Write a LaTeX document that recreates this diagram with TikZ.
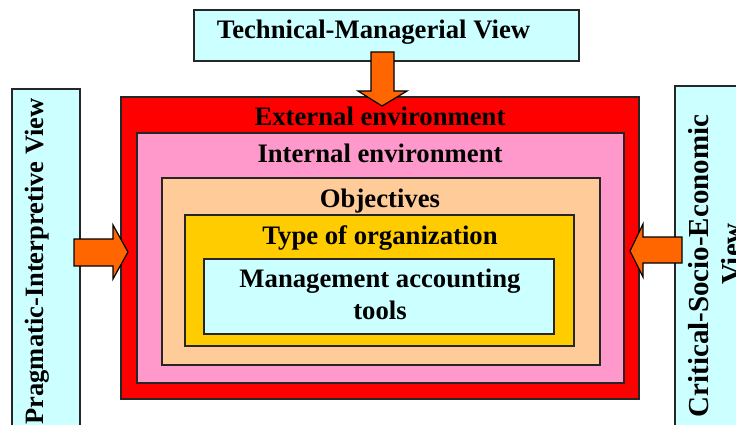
\documentclass[tikz,border=0pt]{standalone}
\usepackage{fontspec}
\setmainfont{Liberation Serif}
\definecolor{cyanbox}{HTML}{CCFFFF}
\definecolor{pinkbox}{HTML}{FF99CC}
\definecolor{peachbox}{HTML}{FFCC99}
\definecolor{goldbox}{HTML}{FFCC00}
\definecolor{redbox}{HTML}{FF0000}
\definecolor{arroworange}{HTML}{FF6600}
\tikzset{
  layer/.style={draw=black!85, line width=1.6pt, inner sep=0pt, rectangle},
  lbl/.style={font=\fontsize{26.7}{32}\selectfont\bfseries, inner sep=0pt, anchor=base},
  blockarrow/.style={fill=arroworange, draw=black, line width=1.2pt, line join=miter}
}
\begin{document}
\begin{tikzpicture}[x=1pt, y=-1pt]
\useasboundingbox (0,0) rectangle (736,425);
\clip (0,0) rectangle (736,425);
% view boxes
\node[layer, fill=cyanbox, minimum width=385pt, minimum height=51pt] (tech) at (386.5,35.5) {};
\node[layer, fill=cyanbox, minimum width=68pt, minimum height=351pt] (prag) at (46,264.5) {};
\node[layer, fill=cyanbox, minimum width=85pt, minimum height=354pt] (crit) at (717.5,263) {};
% nested boxes
\node[layer, fill=redbox, minimum width=518pt, minimum height=302pt] (ext) at (380,248) {};
\node[layer, fill=pinkbox, minimum width=487pt, minimum height=250pt] (int) at (380.5,258) {};
\node[layer, fill=peachbox, minimum width=438pt, minimum height=187pt] (obj) at (381,271.5) {};
\node[layer, fill=goldbox, minimum width=389pt, minimum height=131pt] (typ) at (379.5,280.5) {};
\node[layer, fill=cyanbox, minimum width=350pt, minimum height=75pt] (mat) at (379,296.5) {};
% labels
\node[lbl] (techT) at (373.5,39) {Technical-Managerial View};
\node[lbl] (extT) at (380,126) {External environment};
\node[lbl] (intT) at (380,162) {Internal environment};
\node[lbl] (objT) at (380,207) {Objectives};
\node[lbl] (typT) at (380,244) {Type of organization};
\node[lbl, align=center] (matT) at (380,319) {Management accounting\\tools};
\node[lbl, font=\fontsize{26.5}{32}\selectfont\bfseries, rotate=90] (pragT) at (43,261.5) {Pragmatic-Interpretive View};
\node[lbl, font=\fontsize{29}{33}\selectfont\bfseries, rotate=90, align=center] (critT) at (741,266) {Critical-Socio-Economic\\\hspace*{24pt}View};
% block arrows
\coordinate (ttip) at (382,106);
\coordinate (ltip) at (128,252);
\coordinate (rtip) at (630,251);
\draw[blockarrow] (ttip) -- ++(25,-15) -- ++(-13,0) -- ++(0,-39) -- ++(-23,0) -- ++(0,39) -- ++(-13,0) -- cycle;
\draw[blockarrow] (ltip) -- ++(-15,27) -- ++(0,-13) -- ++(-39,0) -- ++(0,-27) -- ++(39,0) -- ++(0,-14) -- cycle;
\draw[blockarrow] (rtip) -- ++(13,-27) -- ++(0,13) -- ++(39,0) -- ++(0,26) -- ++(-39,0) -- ++(0,14) -- cycle;
\end{tikzpicture}
\end{document}
